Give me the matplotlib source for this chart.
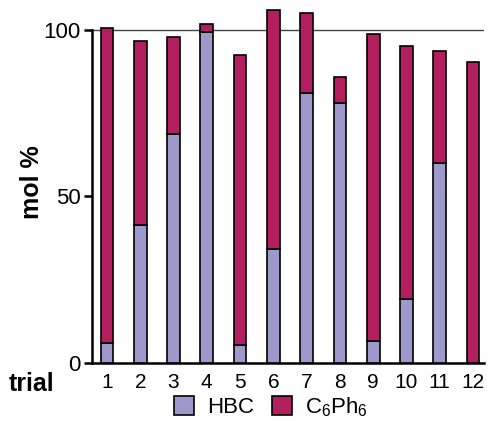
import numpy as np
import matplotlib
matplotlib.use("Agg")
import matplotlib.pyplot as plt
from matplotlib.patches import Patch

plt.rcParams['font.family'] = ['Liberation Sans', 'DejaVu Sans']

# data (mol %)
trials = [1, 2, 3, 4, 5, 6, 7, 8, 9, 10, 11, 12]
hbc = [6.1, 41.5, 68.8, 99.4, 5.4, 34.3, 81.0, 77.9, 6.7, 19.2, 60.1, 0.0]
total = [100.6, 96.7, 97.9, 101.6, 92.4, 105.9, 104.9, 85.9, 98.7, 95.2, 93.5, 90.3]
c6ph6 = [t - h for t, h in zip(total, hbc)]
tick_labels = [str(t) for t in trials]

HBC_COLOR = '#9d99ca'
C6PH6_COLOR = '#b31e5e'

fig = plt.figure(figsize=(4.88, 4.21), dpi=100)
ax = fig.add_axes([92 / 488, 58 / 421, 392 / 488, 362 / 421])

x = np.array(trials)
ax.bar(x, hbc, width=0.38, color=HBC_COLOR, edgecolor='black', linewidth=1.2, zorder=3)
ax.bar(x, c6ph6, bottom=hbc, width=0.38, color=C6PH6_COLOR, edgecolor='black',
       linewidth=1.2, zorder=3)

# reference line at 100 %
ax.axhline(100, color='#444444', linewidth=1.0, zorder=2)

ax.set_xlim(0.55, 12.33)
ax.set_ylim(0, 108.6)

ax.spines['top'].set_visible(False)
ax.spines['right'].set_visible(False)
ax.spines['left'].set_bounds(0, 100)
ax.spines['left'].set_linewidth(1.8)
ax.spines['bottom'].set_linewidth(1.8)

ax.set_yticks([0, 50, 100])
ax.tick_params(axis='y', length=6, width=1.8, labelsize=16, pad=2)
ax.set_xticks(x)
ax.set_xticklabels(tick_labels)
ax.tick_params(axis='x', length=0, labelsize=15, pad=7)

ax.set_ylabel('mol %', fontsize=18, fontweight='bold', labelpad=0)
fig.text(32 / 488, 1 - 384 / 421, 'trial', fontsize=18, fontweight='bold',
         ha='center', va='center')

handles = [Patch(facecolor=HBC_COLOR, edgecolor='black', linewidth=1.2, label='HBC'),
           Patch(facecolor=C6PH6_COLOR, edgecolor='black', linewidth=1.2,
                 label=r'C$\mathregular{_6}$Ph$\mathregular{_6}$')]
fig.legend(handles=handles, loc='center', bbox_to_anchor=(271 / 488, 1 - 407 / 421),
           ncol=2, frameon=False, fontsize=16, handlelength=0.9, handleheight=0.9,
           handletextpad=0.6, columnspacing=0.8, borderpad=0)

fig.savefig('out.png', dpi=100)
